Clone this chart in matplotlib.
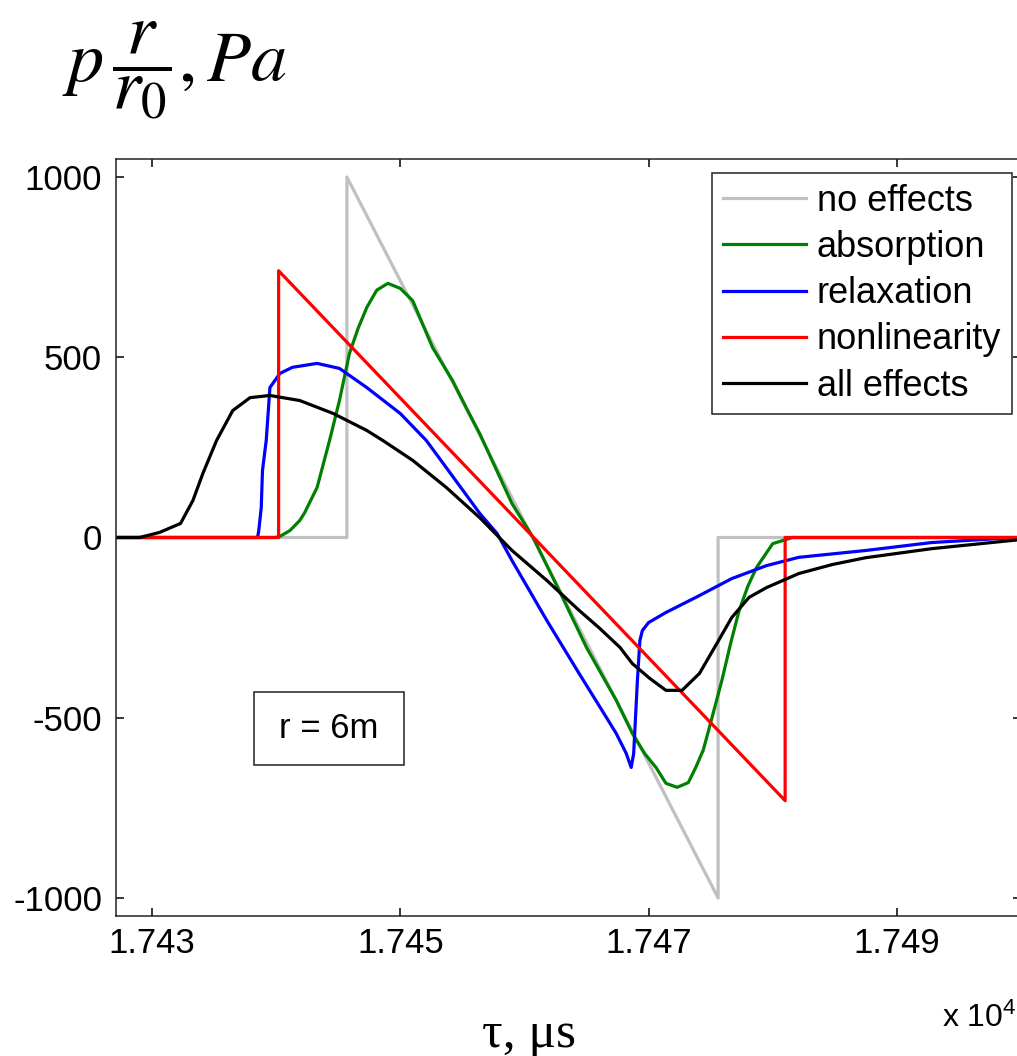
import numpy as np
import matplotlib.pyplot as plt
from matplotlib.patches import Rectangle

# retarded time, microseconds
t_none = [17427.1, 17445.7, 17445.7, 17475.6, 17475.6, 17499.9]
p_none = [0, 0, 1000, -1000, 0, 0]

t_nonlin = [17427.1, 17440.2, 17440.2, 17481.0, 17481.0, 17499.9]
p_nonlin = [0, 0, 740, -730, 0, 0]

t_abs = [17427.1, 17439.9, 17440.3, 17441.1, 17441.9, 17442.3, 17443.3, 17444.3,
         17445.1, 17445.9, 17446.6, 17447.3, 17448.1, 17449.0, 17450.0, 17451.0,
         17452.6, 17454.2, 17455.3, 17456.4, 17459.0, 17460.7, 17462.8, 17465.0,
         17467.4, 17468.7, 17469.7, 17470.6, 17471.4, 17472.3, 17473.2, 17473.8,
         17474.4, 17474.9, 17475.9, 17476.6, 17477.3, 17478.0, 17478.7, 17480.0,
         17481.6, 17499.9]
p_abs = [0, 0, 3, 19, 47, 69, 139, 269,
         380, 510, 580, 638, 686, 705, 691, 657,
         527, 436, 361, 288, 94, 0, -147, -305,
         -452, -544, -600, -638, -682, -693, -680, -638,
         -590, -527, -397, -295, -202, -135, -83, -17,
         0, 0]

t_relax = [17427.1, 17438.5, 17438.6, 17438.8, 17438.9, 17439.2, 17439.5, 17440.3,
           17441.3, 17443.3, 17445.1, 17447.3, 17450.0, 17452.1, 17453.7, 17456.4,
           17457.8, 17459.0, 17461.8, 17464.4, 17466.6, 17467.4, 17468.2, 17468.6,
           17468.8, 17469.1, 17469.3, 17469.5, 17470.0, 17471.4, 17474.1, 17476.7,
           17479.5, 17482.1, 17487.5, 17492.8, 17498.2, 17499.9]
p_relax = [0, 0, 19, 83, 186, 269, 416, 455,
           472, 483, 469, 416, 344, 269, 194, 67,
           11, -64, -230, -377, -499, -544, -599, -638,
           -599, -397, -286, -258, -236, -208, -161, -114,
           -78, -55, -36, -14, -3, 0]

t_all = [17427.1, 17429.0, 17430.6, 17432.3, 17433.3, 17434.1, 17435.2, 17436.5,
         17437.9, 17439.5, 17441.9, 17444.6, 17447.3, 17448.6, 17451.0, 17453.7,
         17456.4, 17459.0, 17461.8, 17464.4, 17466.0, 17467.7, 17468.7, 17470.1,
         17471.4, 17472.7, 17474.1, 17475.5, 17476.7, 17478.1, 17479.5, 17482.1,
         17484.8, 17487.5, 17492.8, 17498.2, 17499.9]
p_all = [0, 0, 14, 39, 103, 178, 269, 352,
         388, 394, 380, 344, 297, 269, 214, 139,
         55, -36, -119, -202, -250, -305, -350, -391,
         -424, -424, -377, -294, -222, -166, -139, -100,
         -75, -56, -31, -12, -6]

labels = ["no effects", "absorption", "relaxation", "nonlinearity", "all effects"]
colors = ["#c0c0c0", "#008000", "#0000ff", "#ff0000", "#000000"]

plt.rcParams["font.family"] = ["Liberation Sans", "DejaVu Sans"]
plt.rcParams["font.size"] = 25
plt.rcParams["axes.unicode_minus"] = False

W, H = 1017, 1056
fig = plt.figure(figsize=(W / 100, H / 100), dpi=100)
ax = fig.add_axes([116 / W, 1 - 916 / H, 905 / W, 757 / H])

series = [(t_none, p_none), (t_abs, p_abs), (t_relax, p_relax),
          (t_nonlin, p_nonlin), (t_all, p_all)]
for (t, p), lab, c in zip(series, labels, colors):
    ax.plot(np.array(t) / 1e4, p, color=c, lw=2.3, label=lab)

ax.set_xlim(1.74271, 1.75)
ax.set_ylim(-1050, 1050)
ax.set_xticks([1.743, 1.745, 1.747, 1.749])
ax.set_xticklabels(["1.743", "1.745", "1.747", "1.749"])
ax.set_yticks([-1000, -500, 0, 500, 1000])
ax.tick_params(direction="in", length=6, width=1.1, top=True, right=True)
ax.tick_params(axis="y", pad=10)
ax.tick_params(axis="x", pad=8)
for s in ax.spines.values():
    s.set_linewidth(1.1)
    s.set_color("#222222")

leg = ax.legend(loc="upper right", bbox_to_anchor=(1012 / W, 1 - 173 / H),
                bbox_transform=fig.transFigure, fancybox=False, framealpha=1,
                edgecolor="#222222", fontsize=26, handlelength=2.3,
                handletextpad=0.3, labelspacing=0.31, borderpad=0.3,
                borderaxespad=0)
leg.get_frame().set_linewidth(1.1)

# annotation box with the distance
ax.add_patch(Rectangle((0.1525, 0.1995), 0.1657, 0.0964, transform=ax.transAxes,
                       fill=False, edgecolor="#222222", lw=1.1))
ax.text(0.2354, 0.2483, "r = 6m", transform=ax.transAxes, ha="center", va="center")

fig.text(62 / W, 1 - 82 / H, r"$p\,\dfrac{r}{r_0},Pa$", fontsize=52,
         math_fontfamily="stix", ha="left", va="baseline")
fig.text(482 / W, 1 - 1047 / H, "τ, μs", fontsize=37, family="Liberation Serif",
         ha="left", va="baseline")
fig.text(942 / W, 1 - 1027 / H, r"x 10$\mathregular{^4}$", fontsize=23,
         ha="left", va="baseline")

fig.savefig("out.png", dpi=100)
